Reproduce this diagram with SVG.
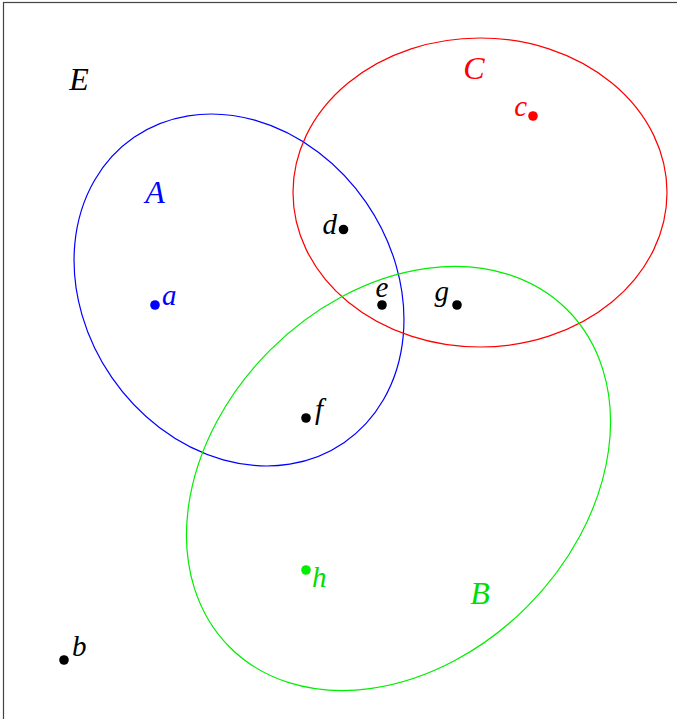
<svg xmlns="http://www.w3.org/2000/svg" width="677" height="719" viewBox="0 0 677 719">
<style>
.lbl{font-family:"Liberation Serif","DejaVu Serif",serif;font-style:italic}
.big{font-size:32px}
.sm{font-size:29px}
.set{fill:none;stroke-width:1.2}
</style>
<rect x="0" y="0" width="677" height="719" fill="#fff"/>
<rect x="3.5" y="2.5" width="700" height="740" fill="none" stroke="#444" stroke-width="1.2"/>
<g id="setA"><ellipse class="set" cx="239" cy="290" rx="185.3" ry="154.4" transform="rotate(55.5 239 290)" stroke="#0000ff"/><text class="lbl big" x="155" y="203" text-anchor="middle" fill="#0000ff">A</text></g>
<g id="setC"><ellipse class="set" cx="480" cy="192.5" rx="187" ry="154.5" stroke="#ff0000"/><text class="lbl big" x="474" y="79" text-anchor="middle" fill="#ff0000">C</text></g>
<g id="setB"><ellipse class="set" cx="398.5" cy="478.5" rx="238.6" ry="181.6" transform="rotate(-45 398.5 478.5)" stroke="#00ee00"/><text class="lbl big" x="480" y="604" text-anchor="middle" fill="#00dd00">B</text></g>
<g id="setE"><text class="lbl big" x="79" y="90" text-anchor="middle" fill="#000">E</text></g>
<g id="pa"><circle cx="155" cy="305" r="4.8" fill="#0000ff"/><text class="lbl sm" x="162" y="305" fill="#0000ff">a</text></g>
<g id="pb"><circle cx="64" cy="660" r="4.8" fill="#000"/><text class="lbl sm" x="72" y="656" fill="#000">b</text></g>
<g id="pc"><circle cx="533" cy="116" r="4.8" fill="#ff0000"/><text class="lbl sm" x="527" y="116" text-anchor="end" fill="#ff0000">c</text></g>
<g id="pd"><circle cx="343.5" cy="229.5" r="4.8" fill="#000"/><text class="lbl sm" x="337" y="234" text-anchor="end" fill="#000">d</text></g>
<g id="pe"><circle cx="382" cy="305" r="4.8" fill="#000"/><text class="lbl sm" x="382" y="297" text-anchor="middle" fill="#000">e</text></g>
<g id="pf"><circle cx="306" cy="418" r="4.8" fill="#000"/><text class="lbl sm" x="315" y="419" fill="#000">f</text></g>
<g id="pg"><circle cx="457" cy="305" r="4.8" fill="#000"/><text class="lbl sm" x="449" y="301" text-anchor="end" fill="#000">g</text></g>
<g id="ph"><circle cx="306" cy="570" r="4.8" fill="#00ee00"/><text class="lbl sm" x="312" y="587" fill="#00dd00">h</text></g>
</svg>
